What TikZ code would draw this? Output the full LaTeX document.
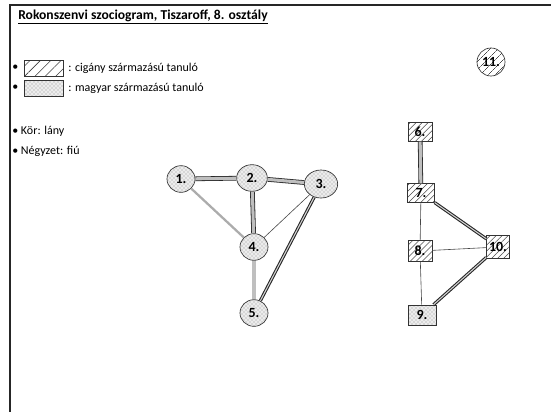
\documentclass[tikz,border=0pt]{standalone}
\usepackage{fontspec}
\setmainfont{Carlito}
\usetikzlibrary{shapes.geometric,patterns,patterns.meta}
\tikzset{
    girl/.style={ellipse, draw=gray!40!black, line width=0.5pt, preaction={fill=gray!15}, pattern=crosshatch dots, pattern color=gray!85, inner sep=0pt, font=\bfseries\fontsize{10.5}{12}\selectfont},
    boy/.style={rectangle, draw=gray!40!black, line width=0.5pt, pattern={Lines[angle=45,distance=3.2pt,line width=0.4pt]}, pattern color=gray!60!black, inner sep=0pt, font=\bfseries\fontsize{10.5}{12}\selectfont},
    boydot/.style={rectangle, draw=gray!40!black, line width=0.5pt, preaction={fill=gray!15}, pattern=crosshatch dots, pattern color=gray!85, inner sep=0pt, font=\bfseries\fontsize{10.5}{12}\selectfont},
    strongtie/.style={draw=gray!30!black, line width=0.6pt, double=gray!50, double distance=2.3pt},
    doubletie/.style={draw=gray!30!black, line width=0.8pt, double=gray!35, double distance=0.8pt},
    midtie/.style={draw=gray!65, line width=1.7pt},
    thintie/.style={draw=gray!55!black, line width=0.45pt},
    legtext/.style={anchor=west, inner sep=0pt, font=\fontsize{9}{11}\selectfont}
}
\begin{document}
\begin{tikzpicture}[x=0.75pt,y=-0.75pt]
    \useasboundingbox (0,0) rectangle (551,412);
    \draw[line width=1.1pt, black!85] (551,5) -- (10,5) -- (10,412);

    \node[anchor=west, inner sep=0pt, font=\bfseries\fontsize{10.2}{12}\selectfont] (title) at (18,17) {\underline{Rokonszenvi szociogram, Tiszaroff, 8. osztály}};

    \node[legtext] (bullet1) at (12,68) {•};
    \node[rectangle, draw=gray!40!black, line width=0.5pt, minimum width=29pt, minimum height=12pt, pattern={Lines[angle=45,distance=5.5pt,line width=0.4pt]}, pattern color=gray!50!black] (cigbox) at (43.5,68) {};
    \node[legtext] (cigtext) at (68,68) {: cigány származású tanuló};
    \node[legtext] (bullet2) at (12,88) {•};
    \node[rectangle, draw=gray!40!black, line width=0.5pt, minimum width=29pt, minimum height=12pt, preaction={fill=gray!15}, pattern=crosshatch dots, pattern color=gray!85] (magbox) at (43.5,88) {};
    \node[legtext] (magtext) at (68,88) {: magyar származású tanuló};

    \node[legtext] (korlany) at (12,131) {• Kör: lány};
    \node[legtext] (negyzetfiu) at (12,151) {• Négyzet: fiú};

    \node[girl, minimum width=21pt, minimum height=20pt] (n1) at (181,179) {1.};
    \node[girl, minimum width=23pt, minimum height=20pt] (n2) at (252,178) {2.};
    \node[girl, minimum width=25pt, minimum height=21pt] (n3) at (321,184) {3.};
    \node[girl, minimum width=21pt, minimum height=20pt] (n4) at (254,247) {4.};
    \node[girl, minimum width=21pt, minimum height=20pt] (n5) at (254,313) {5.};

    \node[boy, minimum width=18pt, minimum height=14pt] (n6) at (420,132) {6.};
    \node[boy, minimum width=20pt, minimum height=14pt] (n7) at (421,193) {7.};
    \node[boy, minimum width=18pt, minimum height=16pt] (n8) at (420,251) {8.};
    \node[boydot, minimum width=21pt, minimum height=15pt] (n9) at (422,315) {9.};
    \node[boy, minimum width=17pt, minimum height=17pt] (n10) at (498,247) {10.};
    \node[circle, draw=gray!40!black, line width=0.5pt, minimum size=21pt, inner sep=0pt, pattern={Lines[angle=45,distance=4pt,line width=0.4pt]}, pattern color=gray!60!black, font=\bfseries\fontsize{10.5}{12}\selectfont] (n11) at (491,62) {11.};

    \path (n1) edge[strongtie] (n2);
    \path (n2) edge[strongtie] (n3);
    \path (n2) edge[strongtie] (n4);
    \path (n4) edge[strongtie] (n5);
    \path (n3) edge[doubletie] (n5);
    \path (n1) edge[midtie] (n4);
    \path (n3) edge[thintie] (n4);

    \path (n6) edge[strongtie] (n7);
    \path (n7) edge[doubletie] (n10);
    \path (n10) edge[doubletie] (n9);
    \path (n7) edge[thintie] (n8);
    \path (n8) edge[thintie] (n10);
    \path (n8) edge[thintie] (n9);
\end{tikzpicture}
\end{document}
